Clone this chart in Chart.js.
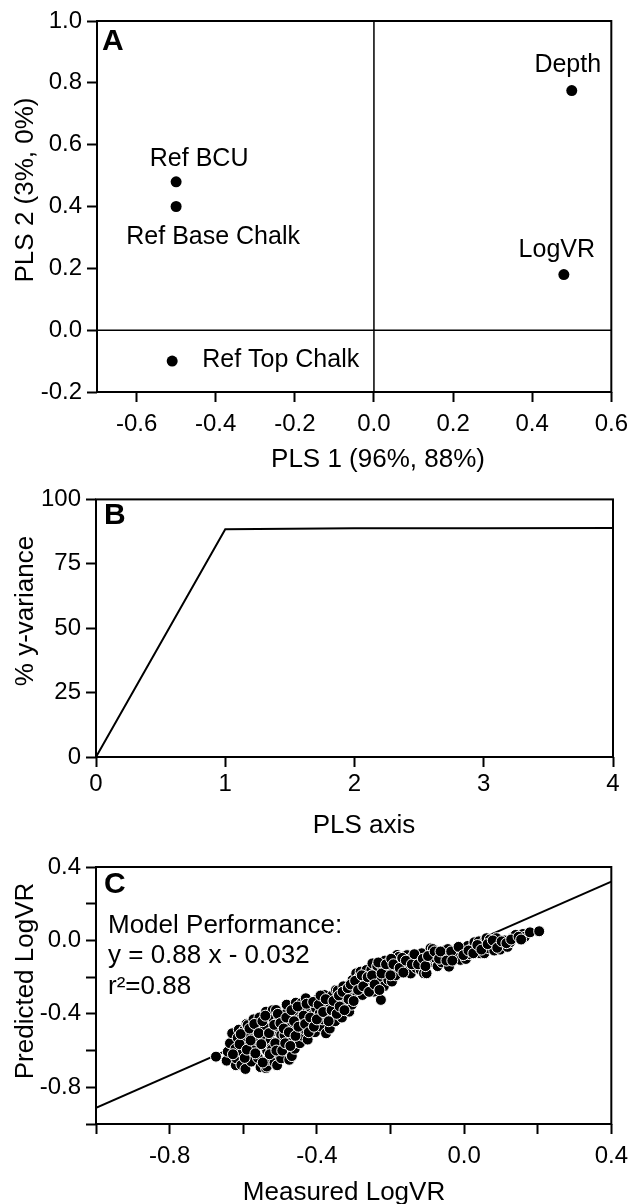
<!DOCTYPE html>
<html lang="en">
<head>
<meta charset="UTF-8" />
<title>PLS model</title>
<script src="https://cdn.jsdelivr.net/npm/chart.js@4.4.0/dist/chart.umd.min.js"></script>
<style>
  body { margin: 0; background: #fff; }
  #wrap { position: relative; width: 636px; height: 1204px; }
  canvas { position: absolute; left: 0; }
</style>
</head>
<body>
<div id="wrap">
  <canvas id="chartA" width="636" height="480" style="top:0px"></canvas>
  <canvas id="chartB" width="636" height="360" style="top:480px"></canvas>
  <canvas id="chartC" width="636" height="364" style="top:840px"></canvas>
</div>
<script>
// A - loadings on PLS 1 / PLS 2
const loadingNames = ['Depth', 'LogVR', 'Ref BCU', 'Ref Base Chalk', 'Ref Top Chalk']
const loadingPls1 = [0.50, 0.48, -0.50, -0.50, -0.51]
const loadingPls2 = [0.775, 0.18, 0.48, 0.40, -0.10]
const aTicksX = [-0.6, -0.4, -0.2, 0, 0.2, 0.4, 0.6]
const aLabelsX = ['-0.6', '-0.4', '-0.2', '0.0', '0.2', '0.4', '0.6']
const aTicksY = [-0.2, 0, 0.2, 0.4, 0.6, 0.8, 1.0]
const aLabelsY = ['-0.2', '0.0', '0.2', '0.4', '0.6', '0.8', '1.0']

// B - cumulative y-variance
const plsAxis = [0, 1, 2, 3, 4]
const yVariance = [0, 88.4, 88.8, 88.8, 88.9]
const bTicksX = [0, 1, 2, 3, 4]
const bLabelsX = ['0', '1', '2', '3', '4']
const bTicksY = [0, 25, 50, 75, 100]
const bLabelsY = ['0', '25', '50', '75', '100']

// C - measured vs predicted
const measuredLogVR = [
  -0.674, -0.645, -0.642, -0.636, -0.630, -0.621, -0.620, -0.619, -0.615, -0.612,
  -0.605, -0.602, -0.599, -0.597, -0.594, -0.591, -0.588, -0.585, -0.582, -0.578,
  -0.575, -0.572, -0.569, -0.565, -0.562, -0.560, -0.556, -0.553, -0.545, -0.542,
  -0.538, -0.538, -0.536, -0.535, -0.532, -0.526, -0.524, -0.522, -0.522, -0.520,
  -0.518, -0.515, -0.511, -0.508, -0.505, -0.502, -0.502, -0.497, -0.497, -0.492,
  -0.488, -0.485, -0.482, -0.480, -0.478, -0.475, -0.470, -0.468, -0.466, -0.464,
  -0.460, -0.457, -0.455, -0.446, -0.444, -0.443, -0.442, -0.440, -0.438, -0.435,
  -0.430, -0.430, -0.425, -0.420, -0.416, -0.412, -0.405, -0.403, -0.402, -0.398,
  -0.393, -0.392, -0.388, -0.385, -0.380, -0.378, -0.375, -0.372, -0.365, -0.363,
  -0.358, -0.353, -0.350, -0.348, -0.343, -0.335, -0.332, -0.328, -0.321, -0.318,
  -0.312, -0.310, -0.305, -0.303, -0.298, -0.293, -0.290, -0.285, -0.282, -0.281,
  -0.276, -0.271, -0.268, -0.265, -0.255, -0.252, -0.249, -0.245, -0.240, -0.236,
  -0.228, -0.226, -0.222, -0.218, -0.215, -0.210, -0.206, -0.196, -0.190, -0.186,
  -0.182, -0.181, -0.177, -0.171, -0.160, -0.155, -0.150, -0.149, -0.145, -0.140,
  -0.130, -0.127, -0.122, -0.118, -0.115, -0.109, -0.102, -0.095, -0.091, -0.088,
  -0.085, -0.082, -0.077, -0.072, -0.060, -0.055, -0.050, -0.044, -0.041, -0.038,
  -0.028, -0.023, -0.017, -0.010, -0.005, 0.005, 0.010, 0.015, 0.022, 0.028,
  0.033, 0.040, 0.044, 0.050, 0.055, 0.058, 0.061, 0.067, 0.070, 0.075,
  0.082, 0.088, 0.094, 0.098, 0.105, 0.110, 0.118, 0.125, 0.132, 0.140,
  0.160, 0.165, 0.179, 0.204,
  -0.628, -0.610, -0.607, -0.596, -0.590, -0.583, -0.580, -0.570, -0.567, -0.558,
  -0.551, -0.548, -0.547, -0.540, -0.530, -0.528, -0.516, -0.513, -0.510, -0.506,
  -0.499, -0.494, -0.490, -0.486, -0.483, -0.476, -0.472, -0.469, -0.462, -0.458,
  -0.452, -0.450,
  -0.436, -0.432, -0.428, -0.422, -0.418, -0.410, -0.408, -0.400, -0.395, -0.390,
  -0.383, -0.376, -0.368, -0.360, -0.355, -0.346, -0.340, -0.338, -0.330, -0.325,
  -0.316, -0.314, -0.308, -0.300, -0.296, -0.288, -0.278, -0.274, -0.262, -0.258,
  -0.250, -0.243,
  -0.233, -0.230, -0.224, -0.212, -0.200, -0.198, -0.192, -0.175, -0.168, -0.165,
  -0.158, -0.142, -0.135, -0.125, -0.112, -0.105, -0.098, -0.080, -0.068, -0.064,
  -0.048, -0.035, -0.032, -0.015, -0.002, 0.012, 0.025, 0.036, 0.047, 0.064,
  0.078, 0.090, 0.102, 0.115, 0.128, 0.148, 0.155
]
const predictedLogVR = [
  -0.633, -0.655, -0.606, -0.560, -0.506, -0.590, -0.680, -0.642, -0.530, -0.486,
  -0.678, -0.612, -0.551, -0.488, -0.700, -0.455, -0.461, -0.625, -0.520, -0.660,
  -0.575, -0.430, -0.587, -0.488, -0.545, -0.640, -0.420, -0.690, -0.530, -0.470,
  -0.388, -0.696, -0.687, -0.600, -0.650, -0.545, -0.587, -0.497, -0.593, -0.380,
  -0.430, -0.665, -0.379, -0.680, -0.470, -0.424, -0.624, -0.515, -0.642, -0.560,
  -0.515, -0.400, -0.350, -0.455, -0.600, -0.650, -0.470, -0.630, -0.542, -0.488,
  -0.590, -0.339, -0.410, -0.560, -0.442, -0.424, -0.342, -0.480, -0.520, -0.380,
  -0.315, -0.488, -0.540, -0.360, -0.450, -0.406, -0.500, -0.360, -0.370, -0.320,
  -0.461, -0.397, -0.470, -0.430, -0.297, -0.350, -0.506, -0.400, -0.480, -0.342,
  -0.300, -0.388, -0.440, -0.270, -0.273, -0.350, -0.420, -0.250, -0.306, -0.340,
  -0.388, -0.306, -0.350, -0.215, -0.260, -0.179, -0.300, -0.200, -0.239, -0.170,
  -0.297, -0.224, -0.260, -0.161, -0.220, -0.160, -0.125, -0.279, -0.179, -0.140,
  -0.200, -0.324, -0.143, -0.250, -0.110, -0.161, -0.215, -0.224, -0.160, -0.190,
  -0.079, -0.116, -0.089, -0.116, -0.130, -0.080, -0.161, -0.107, -0.180, -0.090,
  -0.150, -0.097, -0.116, -0.160, -0.070, -0.179, -0.179, -0.120, -0.043, -0.070,
  -0.047, -0.097, -0.097, -0.140, -0.120, -0.090, -0.052, -0.047, -0.143, -0.080,
  -0.090, -0.061, -0.067, -0.106, -0.050, -0.101, -0.030, -0.075, -0.043, -0.010,
  -0.046, -0.005, -0.070, -0.030, -0.070, 0.002, 0.012, -0.043, 0.005, -0.020,
  -0.055, 0.012, -0.025, -0.050, -0.021, 0.000, -0.035, -0.010, 0.015, 0.030,
  0.035, 0.020, 0.044, 0.050,
  -0.620, -0.565, -0.510, -0.640, -0.595, -0.480, -0.545, -0.455, -0.615, -0.505,
  -0.565, -0.440, -0.665, -0.410, -0.505, -0.620, -0.460, -0.560, -0.600, -0.400,
  -0.450, -0.600, -0.480, -0.560, -0.420, -0.500, -0.575, -0.380, -0.440, -0.520,
  -0.360, -0.470,
  -0.410, -0.455, -0.345, -0.500, -0.420, -0.335, -0.470, -0.430, -0.350, -0.300,
  -0.390, -0.320, -0.440, -0.380, -0.330, -0.400, -0.300, -0.360, -0.280, -0.380,
  -0.260, -0.320, -0.240, -0.330, -0.220, -0.270, -0.190, -0.250, -0.200, -0.280,
  -0.190, -0.240,
  -0.120, -0.270, -0.180, -0.130, -0.190, -0.100, -0.130, -0.150, -0.095, -0.175,
  -0.110, -0.130, -0.075, -0.130, -0.100, -0.140, -0.085, -0.060, -0.100, -0.060,
  -0.110, -0.060, -0.110, -0.035, -0.080, -0.055, -0.070, -0.025, -0.050, -0.020,
  0.000, -0.040, -0.005, -0.015, 0.005, 0.020, 0.005
]
const fitX = [-1.0, 0.4]
const fitY = [-0.912, 0.320] // y = 0.88 x - 0.032
const cTicks = [-1.0, -0.8, -0.6, -0.4, -0.2, 0, 0.2, 0.4]
const cLabels = ['', '-0.8', '', '-0.4', '', '0.0', '', '0.4']

const FONT = "'Liberation Sans', Arial, sans-serif"

function axis(min, max, ticks, labels, pad, size) {
  return {
    type: 'linear',
    min: min,
    max: max,
    afterBuildTicks: (s) => { s.ticks = ticks.map((v) => ({ value: v })) },
    afterFit: (s) => { if (s.isHorizontal()) s.height = size; else s.width = size },
    border: { display: false },
    grid: { drawOnChartArea: false, drawTicks: true, tickLength: 10, tickWidth: 2, tickColor: '#000' },
    ticks: {
      color: '#000', padding: pad, autoSkip: false, maxRotation: 0,
      font: { family: FONT, size: 24 },
      callback: (v, i) => labels[i],
    },
  }
}

function drawText(ctx, t) {
  ctx.save()
  ctx.font = (t.bold ? 'bold ' : '') + t.size + 'px ' + FONT
  ctx.fillStyle = '#000'
  ctx.textAlign = t.align || 'left'
  ctx.textBaseline = 'alphabetic'
  ctx.translate(t.x, t.y)
  if (t.rotate) ctx.rotate(-Math.PI / 2)
  ctx.fillText(t.text, 0, 0)
  ctx.restore()
}

// frame, zero lines, panel texts
const decor = {
  id: 'decor',
  afterDatasetsDraw(chart, args, opts) {
    const { ctx, chartArea: a, scales } = chart
    ctx.save()
    ctx.strokeStyle = '#000'
    if (opts.zeroLines) {
      ctx.lineWidth = 1.5
      const x0 = scales.x.getPixelForValue(0)
      const y0 = scales.y.getPixelForValue(0)
      ctx.beginPath()
      ctx.moveTo(x0, a.top); ctx.lineTo(x0, a.bottom)
      ctx.moveTo(a.left, y0); ctx.lineTo(a.right, y0)
      ctx.stroke()
    }
    ctx.lineWidth = 2
    ctx.strokeRect(a.left, a.top, a.right - a.left, a.bottom - a.top)
    ctx.restore()
    if (opts.pointLabels) {
      opts.pointLabels.forEach((p, i) => {
        drawText(ctx, {
          text: loadingNames[i], size: 25, align: p.align,
          x: scales.x.getPixelForValue(loadingPls1[i]) + p.dx,
          y: scales.y.getPixelForValue(loadingPls2[i]) + p.dy,
        })
      })
    }
    ;(opts.texts || []).forEach((t) => drawText(ctx, t))
  },
}

const common = {
  responsive: false,
  animation: false,
  plugins: { legend: { display: false }, tooltip: { enabled: false } },
}

// Panel A
new Chart(document.getElementById('chartA'), {
  type: 'scatter',
  data: {
    datasets: [{
      data: loadingPls1.map((x, i) => ({ x: x, y: loadingPls2[i] })),
      backgroundColor: '#000', borderWidth: 0, pointRadius: 5.5,
    }],
  },
  options: {
    ...common,
    layout: { padding: { top: 21, right: 23, left: 0, bottom: 0 } },
    scales: {
      x: axis(-0.7, 0.6, aTicksX, aLabelsX, 8, 88),
      y: axis(-0.2, 1.0, aTicksY, aLabelsY, 5, 97),
    },
    plugins: {
      ...common.plugins,
      decor: {
        zeroLines: true,
        pointLabels: [
          { dx: -4, dy: -19, align: 'center' },
          { dx: -7, dy: -18, align: 'center' },
          { dx: 23, dy: -16, align: 'center' },
          { dx: 37, dy: 37, align: 'center' },
          { dx: 30, dy: 6, align: 'left' },
        ],
        texts: [
          { text: 'A', x: 102, y: 50, size: 30, bold: true },
          { text: 'PLS 1 (96%, 88%)', x: 378, y: 467, size: 26, align: 'center' },
          { text: 'PLS 2 (3%, 0%)', x: 33, y: 190, size: 26, align: 'center', rotate: true },
        ],
      },
    },
  },
  plugins: [decor],
})

// Panel B
new Chart(document.getElementById('chartB'), {
  type: 'line',
  data: {
    datasets: [{
      data: plsAxis.map((x, i) => ({ x: x, y: yVariance[i] })),
      borderColor: '#000', borderWidth: 2, pointRadius: 0, tension: 0, fill: false,
    }],
  },
  options: {
    ...common,
    layout: { padding: { top: 18, right: 23, left: 0, bottom: 0 } },
    scales: {
      x: axis(0, 4, bTicksX, bLabelsX, 3, 83),
      y: axis(0, 100, bTicksY, bLabelsY, 5, 96),
    },
    plugins: {
      ...common.plugins,
      decor: {
        texts: [
          { text: 'B', x: 104, y: 44, size: 30, bold: true },
          { text: 'PLS axis', x: 364, y: 353, size: 26, align: 'center' },
          { text: '% y-variance', x: 33, y: 131, size: 26, align: 'center', rotate: true },
        ],
      },
    },
  },
  plugins: [decor],
})

// Panel C
new Chart(document.getElementById('chartC'), {
  type: 'scatter',
  data: {
    datasets: [
      {
        data: measuredLogVR.map((x, i) => ({ x: x, y: predictedLogVR[i] })),
        backgroundColor: '#000', borderColor: '#fff', borderWidth: 1, pointRadius: 5.5,
        order: 0,
      },
      {
        data: fitX.map((x, i) => ({ x: x, y: fitY[i] })),
        showLine: true, borderColor: '#000', borderWidth: 2, pointRadius: 0,
        order: 1,
      },
    ],
  },
  options: {
    ...common,
    layout: { padding: { top: 27, right: 23, left: 0, bottom: 0 } },
    scales: {
      x: axis(-1.0, 0.4, cTicks, cLabels, 8, 80),
      y: axis(-1.0, 0.4, cTicks, cLabels, 5, 96),
    },
    plugins: {
      ...common.plugins,
      decor: {
        texts: [
          { text: 'C', x: 104, y: 53, size: 30, bold: true },
          { text: 'Model Performance:', x: 108, y: 93, size: 26 },
          { text: 'y = 0.88 x - 0.032', x: 108, y: 123, size: 26 },
          { text: 'r\u00B2=0.88', x: 108, y: 154, size: 26 },
          { text: 'Measured LogVR', x: 344, y: 360, size: 26, align: 'center' },
          { text: 'Predicted LogVR', x: 33, y: 141, size: 26, align: 'center', rotate: true },
        ],
      },
    },
  },
  plugins: [decor],
})
</script>
</body>
</html>
